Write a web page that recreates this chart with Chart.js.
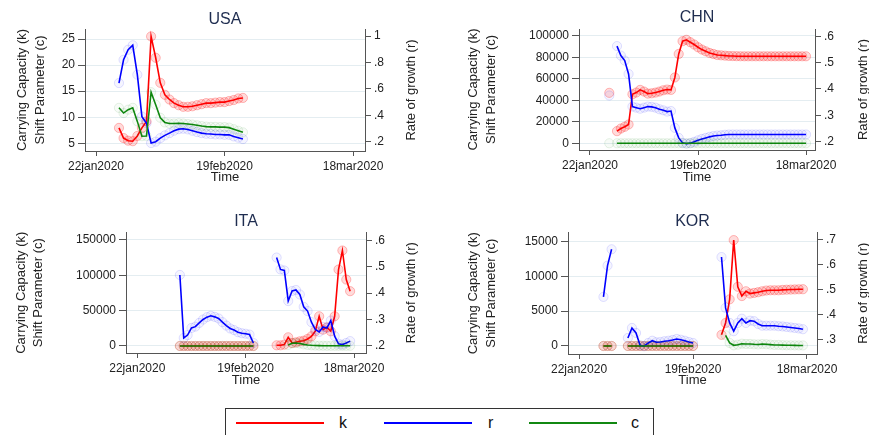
<!DOCTYPE html>
<html>
<head>
<meta charset="utf-8">
<script src="https://cdn.jsdelivr.net/npm/chart.js@4"></script>
<style>
  body { margin: 0; background: #fff; }
  #wrap { position: relative; width: 869px; height: 435px; overflow: hidden; background: #fff; }
  canvas { position: absolute; }
  #legend { position: absolute; left: 225px; top: 408px; width: 427px; height: 40px; border: 1px solid #333; font-family: "Liberation Sans", Arial, sans-serif; font-size: 16px; color: #111; }
  #legend .ln { position: absolute; top: 13px; height: 2px; width: 88px; }
  #legend .tx { position: absolute; top: 4px; line-height: 20px; }
</style>
</head>
<body>
<div id="wrap">
  <canvas id="usa" width="435" height="200" style="left:0;top:0"></canvas>
  <canvas id="chn" width="440" height="200" style="left:435px;top:0"></canvas>
  <canvas id="ita" width="435" height="200" style="left:0;top:200px"></canvas>
  <canvas id="kor" width="440" height="200" style="left:435px;top:200px"></canvas>
  <div id="legend">
    <div class="ln" style="left:10px;background:#ff0000"></div><div class="tx" style="left:113px">k</div>
    <div class="ln" style="left:158px;background:#0000ff"></div><div class="tx" style="left:262px">r</div>
    <div class="ln" style="left:303px;background:#118811"></div><div class="tx" style="left:405px">c</div>
  </div>
</div>
<script>
// x axis: days since 22jan2020
const xTickDays = [0, 28, 56];
const xTickLabels = ['22jan2020', '19feb2020', '18mar2020'];

// USA, first day = 5
const usaStart = 5;
const usaK = [7.95, 6.0, 5.5, 5.4, 6.4, 7.95, 9.2, 25.5, 21.4, 16.6, 14.3, 13.4, 12.7, 12.3, 12.0, 12.0, 12.1, 12.3, 12.5, 12.7, 12.7, 12.8, 12.9, 12.9, 13.1, 13.3, 13.6, 13.7];
const usaR = [0.644, 0.82, 0.896, 0.93, 0.707, 0.39, 0.34, 0.19, 0.20, 0.227, 0.248, 0.265, 0.283, 0.295, 0.298, 0.293, 0.283, 0.273, 0.265, 0.26, 0.258, 0.255, 0.255, 0.252, 0.252, 0.24, 0.23, 0.22];
const usaC = [11.8, 10.8, 11.45, 11.8, 9.2, 6.36, 6.4, 14.8, 12.4, 9.9, 9.0, 8.8, 8.8, 8.85, 8.8, 8.7, 8.6, 8.45, 8.3, 8.2, 8.15, 8.15, 8.1, 8.1, 8.0, 7.7, 7.4, 7.1];
const usaLeftTicks = [5, 10, 15, 20, 25];
const usaRightTicks = [0.2, 0.4, 0.6, 0.8, 1];

// CHN, first day = 5
const chnStart = 5;
const chnK = [46900, null, 11250, 13700, 15300, 17450, 45550, 47150, 49650, 48100, 46200, 46500, 47150, 48100, 49300, 49950, 49650, 61200, 83050, 94950, 96200, 94000, 91850, 89300, 87150, 85550, 84000, 83050, 82100, 81800, 81500, 81200, 81100, 81000, 80950, 80900, 80900, 80900, 80900, 80900, 80900, 80900, 80900, 80900, 80900, 80900, 80900, 80900, 80900, 80900, 80900, 80900];
const chnR = [0.375, null, 0.563, 0.527, 0.508, 0.457, 0.333, 0.329, 0.325, 0.329, 0.333, 0.332, 0.329, 0.323, 0.319, 0.314, 0.316, 0.252, 0.214, 0.195, 0.192, 0.194, 0.199, 0.205, 0.210, 0.214, 0.218, 0.221, 0.223, 0.224, 0.226, 0.227, 0.227, 0.227, 0.227, 0.227, 0.227, 0.227, 0.227, 0.227, 0.227, 0.227, 0.227, 0.227, 0.227, 0.227, 0.227, 0.227, 0.227, 0.227, 0.227, 0.227];
const chnC = [0, null, 0, 0, 0, 0, 0, 0, 0, 0, 0, 0, 0, 0, 0, 0, 0, 0, 0, 0, 0, 0, 0, 0, 0, 0, 0, 0, 0, 0, 0, 0, 0, 0, 0, 0, 0, 0, 0, 0, 0, 0, 0, 0, 0, 0, 0, 0, 0, 0, 0, 0];
const chnLeftTicks = [0, 20000, 40000, 60000, 80000, 100000];
const chnRightTicks = [0.2, 0.3, 0.4, 0.5, 0.6];

// ITA, first day = 11
const itaStart = 11;
const itaK = [0, 0, 0, 0, 0, 0, 0, 0, 0, 0, 0, 0, 0, 0, 0, 0, 0, 0, 0, 0, null, null, null, null, null, 1000, 1000, 1900, 12300, 4250, 5200, 6600, 7500, 9900, 13700, 20800, 42000, 23100, 26400, 20800, 42000, 108000, 134900, 93800, 77400];
const itaR = [0.469, 0.230, 0.241, 0.268, 0.273, 0.287, 0.300, 0.309, 0.314, 0.310, 0.304, 0.290, 0.277, 0.266, 0.260, 0.252, 0.248, 0.246, 0.243, 0.211, null, null, null, null, null, 0.535, 0.490, 0.486, 0.370, 0.408, 0.412, 0.395, 0.348, 0.332, 0.290, 0.262, 0.253, 0.272, 0.268, 0.296, 0.237, 0.208, 0.205, 0.211, 0.218];
const itaC = [0, 0, 0, 0, 0, 0, 0, 0, 0, 0, 0, 0, 0, 0, 0, 0, 0, 0, 0, 0, null, null, null, null, null, null, null, null, 1500, 3800, 4200, 3500, 2300, 1500, 1000, 700, 500, 400, 300, 300, 300, 300, 300, 300, 300];
const itaLeftTicks = [0, 50000, 100000, 150000];
const itaRightTicks = [0.2, 0.3, 0.4, 0.5, 0.6];

// KOR, first day = 6
const korStart = 6;
const korK = [0, 0, 0, null, null, null, 0, 0, 0, 0, 0, 0, 0, 0, 0, 0, 0, 0, 0, 0, 0, 0, 0, null, null, null, null, null, null, 1600, 3300, 6700, 15200, 8500, 7170, 7860, 7530, 7620, 7720, 7860, 7960, 8000, 8000, 8000, 8050, 8080, 8100, 8120, 8140, 8150];
const korR = [0.472, 0.597, 0.662, null, null, null, 0.308, 0.348, 0.328, 0.279, 0.275, 0.288, 0.297, 0.291, 0.292, 0.295, 0.297, 0.300, 0.304, 0.301, 0.297, 0.292, 0.288, null, null, null, null, null, null, 0.631, 0.428, 0.368, 0.335, 0.368, 0.385, 0.368, 0.377, 0.375, 0.364, 0.357, 0.357, 0.357, 0.357, 0.355, 0.354, 0.352, 0.350, 0.348, 0.346, 0.343];
const korC = [0, 0, 0, null, null, null, 0, 0, 0, 0, 0, 0, 0, 0, 0, 0, 0, 0, 0, 0, 0, 0, 0, null, null, null, null, null, null, null, 1540, 430, 100, 190, 330, 290, 290, 240, 220, 280, 250, 200, 150, 150, 120, 100, 100, 90, 80, 80];
const korLeftTicks = [0, 5000, 10000, 15000];
const korRightTicks = [0.3, 0.4, 0.5, 0.6, 0.7];

Chart.defaults.font.family = '"Liberation Sans", Arial, sans-serif';
Chart.defaults.color = '#222';

const axisCol = '#555';
const gridCol = '#e4edf1';

// draws the right axis title reading bottom-to-top, like the left one
const rightTitle = {
  id: 'rightTitle',
  afterDraw(chart, args, opts) {
    const ctx = chart.ctx, a = chart.chartArea;
    ctx.save();
    ctx.translate(opts.x, (a.top + a.bottom) / 2);
    ctx.rotate(-Math.PI / 2);
    ctx.font = '13px "Liberation Sans", Arial, sans-serif';
    ctx.fillStyle = '#222';
    ctx.textAlign = 'center';
    ctx.textBaseline = 'middle';
    ctx.fillText(opts.text, 0, 0);
    ctx.restore();
  }
};

function series(start, arr) {
  return arr.map((v, i) => ({ x: start + i, y: v }));
}

function rateLabel(v) {
  const s = String(Math.round(v * 10) / 10);
  return s.startsWith('0.') ? s.slice(1) : s;
}

function makeSet(label, data, axis, col, fill, edge, order) {
  return {
    label: label, data: data, yAxisID: axis, order: order,
    borderColor: col, borderWidth: 1.6, fill: false, tension: 0, spanGaps: false,
    pointRadius: 4.6, pointHoverRadius: 4.6, pointBorderWidth: 1,
    pointBackgroundColor: fill, pointBorderColor: edge
  };
}

function panel(p) {
  new Chart(document.getElementById(p.id), {
    type: 'line',
    data: {
      datasets: [
        makeSet('k', series(p.start, p.k), 'y', '#ff0000', 'rgba(255,0,0,0.14)', 'rgba(255,0,0,0.26)', 3),
        makeSet('r', series(p.start, p.r), 'y1', '#0000ff', 'rgba(0,0,255,0.04)', 'rgba(0,0,255,0.12)', 2),
        makeSet('c', series(p.start, p.c), 'y', '#118811', 'rgba(0,128,0,0.03)', 'rgba(0,128,0,0.1)', 1)
      ]
    },
    options: {
      responsive: false,
      animation: false,
      devicePixelRatio: 1,
      layout: { padding: 0 },
      plugins: {
        legend: { display: false },
        tooltip: { enabled: false },
        title: {
          display: true, text: p.title, color: '#1f2d50', fullSize: false,
          font: { size: 16, weight: 'normal', lineHeight: 1 },
          padding: { top: p.tTop, bottom: p.tBot }
        },
        rightTitle: { x: p.rtX, text: 'Rate of growth (r)' }
      },
      scales: {
        x: {
          type: 'linear', min: p.xMin, max: p.xMax,
          afterBuildTicks: a => { a.ticks = xTickDays.map(v => ({ value: v })); },
          afterFit: a => { a.height = p.h - p.b; },
          ticks: { autoSkip: false, maxRotation: 0, padding: 3, font: { size: 12 }, callback: (v, i) => xTickLabels[i] },
          grid: { drawOnChartArea: false, tickLength: 5, tickColor: axisCol },
          border: { color: axisCol },
          title: { display: true, text: 'Time', font: { size: 13, lineHeight: 1.2 }, padding: { top: 0, bottom: p.timePad } }
        },
        y: {
          position: 'left', min: p.yMin, max: p.yMax,
          afterBuildTicks: a => { a.ticks = p.yTicks.map(v => ({ value: v })); },
          afterFit: a => { a.width = p.l; },
          ticks: { padding: 3, font: { size: 12 }, callback: v => String(v) },
          grid: { color: gridCol, tickLength: 7, tickColor: axisCol },
          border: { color: axisCol },
          title: {
            display: true, text: ['Carrying Capacity (k)', 'Shift Parameter (c)'],
            font: { size: 13, lineHeight: 1.35 }, padding: { top: p.ltPad, bottom: 0 }
          }
        },
        y1: {
          position: 'right', min: p.rMin, max: p.rMax,
          afterBuildTicks: a => { a.ticks = p.rTicks.map(v => ({ value: v })); },
          afterFit: a => { a.width = p.w - p.r2; },
          ticks: { padding: 3, font: { size: 12 }, callback: v => rateLabel(v) },
          grid: { drawOnChartArea: false, tickLength: 6, tickColor: axisCol },
          border: { color: axisCol }
        }
      }
    },
    plugins: [rightTitle]
  });
}

panel({ id: 'usa', title: 'USA', w: 435, h: 200, l: 85, r2: 365, b: 151, tTop: 11.5, tBot: 1.5,
  xMin: -2.4, xMax: 58.6, yMin: 3.52, yMax: 26.92, rMin: 0.1296, rMax: 1.053,
  yTicks: usaLeftTicks, rTicks: usaRightTicks, ltPad: 13.7, rtX: 411.5, timePad: 15.2,
  start: usaStart, k: usaK, r: usaR, c: usaC });

panel({ id: 'chn', title: 'CHN', w: 440, h: 200, l: 144, r2: 380, b: 150, tTop: 10, tBot: 3,
  xMin: -2.85, xMax: 58.33, yMin: -6285, yMax: 106285, rMin: 0.168, rMax: 0.628,
  yTicks: chnLeftTicks, rTicks: chnRightTicks, ltPad: 29.7, rtX: 428, timePad: 14.8,
  start: chnStart, k: chnK, r: chnR, c: chnC });

panel({ id: 'ita', title: 'ITA', w: 435, h: 200, l: 126, r2: 366, b: 153, tTop: 13.5, tBot: 3,
  xMin: -2.92, xMax: 59.1, yMin: -9906, yMax: 160330, rMin: 0.173, rMax: 0.630,
  yTicks: itaLeftTicks, rTicks: itaRightTicks, ltPad: 12.2, rtX: 411, timePad: 11.3,
  start: itaStart, k: itaK, r: itaR, c: itaC });

panel({ id: 'kor', title: 'KOR', w: 440, h: 200, l: 133, r2: 382, b: 154, tTop: 13.5, tBot: 3,
  xMin: -2.71, xMax: 58.46, yMin: -1150, yMax: 16294, rMin: 0.244, rMax: 0.729,
  yTicks: korLeftTicks, rTicks: korRightTicks, ltPad: 29.7, rtX: 428, timePad: 11.7,
  start: korStart, k: korK, r: korR, c: korC });
</script>
</body>
</html>
